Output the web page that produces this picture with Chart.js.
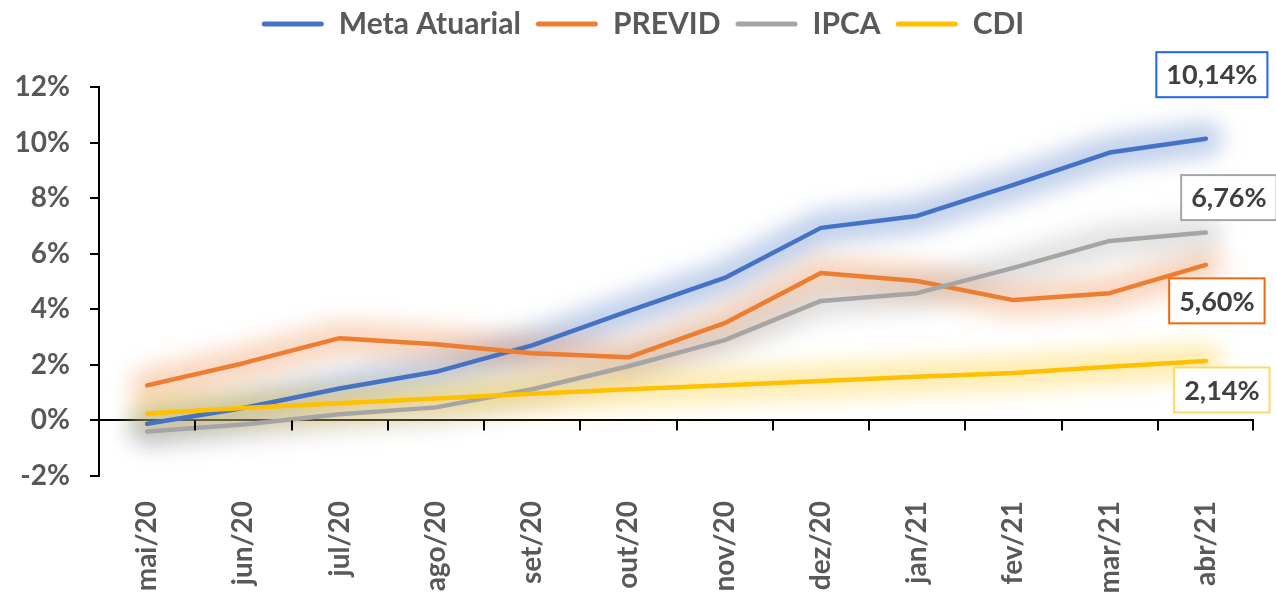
<!DOCTYPE html>
<html>
<head>
<meta charset="utf-8">
<script src="https://cdn.jsdelivr.net/npm/chart.js@4.4.1/dist/chart.umd.min.js"></script>
<style>
  html, body { margin: 0; padding: 0; background: #fff; }
  #wrap { width: 1276px; height: 594px; position: relative; }
</style>
</head>
<body>
<div id="wrap"><canvas id="myChart"></canvas></div>
<script>
const months = ['mai/20', 'jun/20', 'jul/20', 'ago/20', 'set/20', 'out/20', 'nov/20', 'dez/20', 'jan/21', 'fev/21', 'mar/21', 'abr/21'];
const seriesNames = ['Meta Atuarial', 'PREVID', 'IPCA', 'CDI'];
const metaAtuarial = [-0.12, 0.45, 1.15, 1.75, 2.70, 3.93, 5.13, 6.93, 7.36, 8.48, 9.64, 10.14];
const previd = [1.26, 2.06, 2.96, 2.74, 2.42, 2.27, 3.50, 5.31, 5.02, 4.33, 4.58, 5.60];
const ipca = [-0.40, -0.15, 0.22, 0.47, 1.12, 1.95, 2.89, 4.30, 4.58, 5.49, 6.46, 6.76];
const cdi = [0.25, 0.45, 0.62, 0.79, 0.96, 1.12, 1.27, 1.42, 1.57, 1.71, 1.93, 2.14];

const lineColors = ['#4472C4', '#ED7D31', '#A5A5A5', '#FFC000'];
const glowColors = ['rgba(68,114,196,0.34)', 'rgba(237,125,49,0.32)', 'rgba(165,165,165,0.32)', 'rgba(255,192,0,0.32)'];
const boxColors = ['#1F66F0', '#ED6A12', '#A6A6A6', '#FFD966'];
// offsets of the end labels from the last point (px)
const labelOffsets = [{dx: 6, dy: -64}, {dx: 11, dy: 36}, {dx: 23, dy: -35}, {dx: 16, dy: 29}];

const FONT = 'Lato';
const TEXT = '#595959';

const glowPlugin = {
    id: 'glow',
    beforeDatasetsDraw(chart) {
        const ctx = chart.ctx;
        chart.data.datasets.forEach((ds, i) => {
            const pts = chart.getDatasetMeta(i).data;
            ctx.save();
            ctx.filter = 'blur(11px)';
            ctx.strokeStyle = glowColors[i];
            ctx.lineWidth = 34;
            ctx.lineJoin = 'round';
            ctx.lineCap = 'round';
            ctx.beginPath();
            pts.forEach((p, k) => { k === 0 ? ctx.moveTo(p.x, p.y) : ctx.lineTo(p.x, p.y); });
            ctx.stroke();
            ctx.restore();
        });
    }
};

const axisTicksPlugin = {
    id: 'axisTicks',
    afterDraw(chart) {
        const ctx = chart.ctx;
        const xs = chart.scales.x;
        const y0 = chart.scales.y.getPixelForValue(0);
        ctx.save();
        ctx.strokeStyle = '#000';
        ctx.lineWidth = 2;
        ctx.beginPath();
        for (let i = 1; i < months.length; i++) {
            const x = Math.round((xs.getPixelForTick(i - 1) + xs.getPixelForTick(i)) / 2);
            ctx.moveTo(x, y0);
            ctx.lineTo(x, y0 + 10);
        }
        const xr = chart.chartArea.right - 1;
        ctx.moveTo(xr, y0);
        ctx.lineTo(xr, y0 + 10);
        ctx.stroke();
        ctx.restore();
    }
};

const endLabelPlugin = {
    id: 'endLabels',
    afterDatasetsDraw(chart) {
        const ctx = chart.ctx;
        chart.data.datasets.forEach((ds, i) => {
            const pts = chart.getDatasetMeta(i).data;
            const last = pts[pts.length - 1];
            const val = ds.data[ds.data.length - 1];
            const txt = val.toFixed(2).replace('.', ',') + '%';
            ctx.save();
            ctx.font = 'bold 27px ' + FONT;
            const tw = ctx.measureText(txt).width;
            const w = tw + 20, h = 45;
            const cx = last.x + labelOffsets[i].dx;
            const cy = last.y + labelOffsets[i].dy;
            ctx.fillStyle = '#fff';
            ctx.fillRect(cx - w / 2, cy - h / 2, w, h);
            ctx.strokeStyle = boxColors[i];
            ctx.lineWidth = 2;
            ctx.strokeRect(cx - w / 2, cy - h / 2, w, h);
            ctx.fillStyle = '#404040';
            ctx.textAlign = 'center';
            ctx.textBaseline = 'middle';
            ctx.fillText(txt, cx, cy + 1);
            ctx.restore();
        });
    }
};

const allSeries = [metaAtuarial, previd, ipca, cdi];
const datasets = allSeries.map((s, i) => ({
    label: seriesNames[i],
    data: s,
    borderColor: lineColors[i],
    backgroundColor: lineColors[i],
    borderWidth: 4.5,
    borderCapStyle: 'round',
    borderJoinStyle: 'round',
    pointRadius: 0,
    tension: 0,
    order: allSeries.length - i
}));

var ctx = document.getElementById('myChart').getContext('2d');

new Chart(ctx, {
    type: 'line',
    data: {
        labels: months,
        datasets: datasets
    },
    plugins: [glowPlugin, endLabelPlugin, axisTicksPlugin],
    options: {
        responsive: true,
        maintainAspectRatio: false,
        animation: false,
        layout: { padding: { left: 10, right: 0, top: -6, bottom: 0 } },
        plugins: {
            tooltip: { enabled: false },
            legend: {
                position: 'top',
                labels: {
                    color: TEXT,
                    font: { family: FONT, size: 30, weight: 'bold' },
                    boxWidth: 62,
                    boxHeight: 5,
                    padding: 15,
                    generateLabels(chart) {
                        const items = Chart.defaults.plugins.legend.labels.generateLabels(chart);
                        items.sort((a, b) => a.datasetIndex - b.datasetIndex);
                        items.forEach((it) => {
                            it.fillStyle = lineColors[it.datasetIndex];
                            it.lineWidth = 0;
                            it.borderRadius = 2.5;
                        });
                        return items;
                    }
                }
            }
        },
        scales: {
            x: {
                type: 'category',
                position: 'bottom',
                offset: true,
                grid: { display: false },
                border: { display: false },
                ticks: {
                    color: TEXT,
                    font: { family: FONT, size: 28, weight: 'bold' },
                    minRotation: 90,
                    maxRotation: 90,
                    padding: 17,
                    autoSkip: false
                },
                afterFit(scale) { scale.height = 118; }
            },
            xTop: {
                type: 'category',
                position: 'top',
                labels: months,
                grid: { display: false },
                border: { display: false },
                ticks: { display: false },
                afterFit(scale) { scale.height = 38; }
            },
            y: {
                min: -2,
                max: 12,
                grid: {
                    color: (c) => (c.tick && c.tick.value === 0 ? '#000' : 'rgba(0,0,0,0)'),
                    lineWidth: 2,
                    tickColor: '#000',
                    tickWidth: 2,
                    tickLength: 9
                },
                border: { display: true, color: '#000', width: 2 },
                ticks: {
                    stepSize: 2,
                    color: TEXT,
                    font: { family: FONT, size: 28, weight: 'bold' },
                    padding: 20,
                    callback: (v) => v + '%'
                },
                afterFit(scale) { scale.width = 89; }
            },
            yRight: {
                position: 'right',
                min: -2,
                max: 12,
                grid: { display: false },
                border: { display: false },
                ticks: { display: false },
                afterFit(scale) { scale.width = 22; }
            }
        }
    }
});
</script>
</body>
</html>
